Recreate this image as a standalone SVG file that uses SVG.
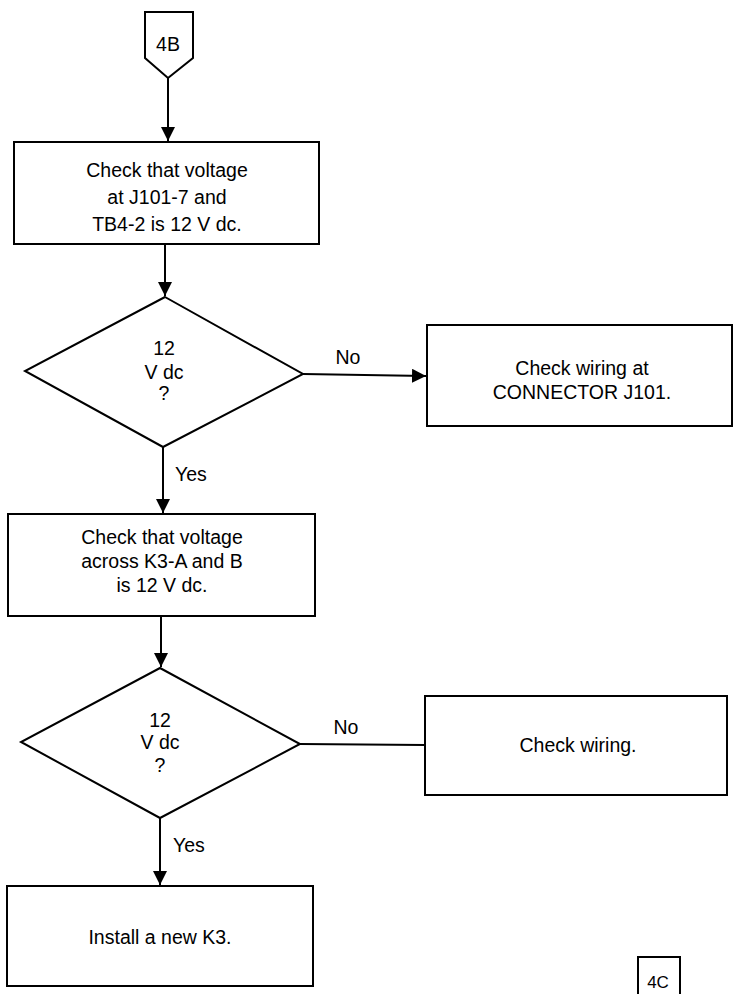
<svg xmlns="http://www.w3.org/2000/svg" width="737" height="994" viewBox="0 0 737 994">
<defs>
<marker id="ah" viewBox="0 0 14 14" refX="14" refY="7" markerWidth="14" markerHeight="14" markerUnits="userSpaceOnUse" orient="auto">
<path d="M0,0 L14,7 L0,14 Z" fill="#000"/>
</marker>
<style>
.s{fill:#fff;stroke:#000;stroke-width:2}
.c{fill:none;stroke:#000;stroke-width:2}
text{font-family:"Liberation Sans",Arial,sans-serif;font-size:19.5px;fill:#000}
.m{text-anchor:middle}
.t{font-size:17px}
</style>
</defs>
<rect width="737" height="994" fill="#fff"/>
<g id="connectors">
<line class="c" x1="168" y1="78" x2="168" y2="141" marker-end="url(#ah)"/>
<line class="c" x1="165" y1="244" x2="165" y2="296" marker-end="url(#ah)"/>
<line class="c" x1="303" y1="374" x2="426" y2="376" marker-end="url(#ah)"/>
<text x="348" y="364" class="m">No</text>
<line class="c" x1="163" y1="447" x2="163" y2="513" marker-end="url(#ah)"/>
<text x="175" y="481">Yes</text>
<line class="c" x1="161" y1="617" x2="161" y2="667" marker-end="url(#ah)"/>
<line class="c" x1="300" y1="744" x2="425" y2="745"/>
<text x="346" y="734" class="m">No</text>
<line class="c" x1="160" y1="818" x2="160" y2="885" marker-end="url(#ah)"/>
<text x="173" y="852">Yes</text>
</g>
<g id="start4B">
<path class="s" d="M145,12 L193,12 L193,58 L168,78 L145,58 Z"/>
<text x="168" y="51" class="m">4B</text>
</g>
<g id="box1">
<rect class="s" x="14" y="142" width="305" height="102"/>
<text x="167" y="177" class="m">Check that voltage</text>
<text x="167" y="204" class="m">at J101-7 and</text>
<text x="167" y="231" class="m">TB4-2 is 12 V dc.</text>
</g>
<g id="dec1">
<path class="s" d="M165,297 L303,374 L163,447 L25,371 Z"/>
<text x="164" y="355" class="m">12</text>
<text x="164" y="379" class="m">V dc</text>
<text x="164" y="400" class="m">?</text>
</g>
<g id="box2">
<rect class="s" x="427" y="325" width="305" height="101"/>
<text x="582" y="375" class="m">Check wiring at</text>
<text x="582" y="399" class="m">CONNECTOR J101.</text>
</g>
<g id="box3">
<rect class="s" x="8" y="514" width="307" height="102"/>
<text x="162" y="544" class="m">Check that voltage</text>
<text x="162" y="568" class="m">across K3-A and B</text>
<text x="162" y="592" class="m">is 12 V dc.</text>
</g>
<g id="dec2">
<path class="s" d="M160,668 L300,744 L160,818 L21,742 Z"/>
<text x="160" y="727" class="m">12</text>
<text x="160" y="749" class="m">V dc</text>
<text x="160" y="772" class="m">?</text>
</g>
<g id="box4">
<rect class="s" x="425" y="696" width="302" height="99"/>
<text x="578" y="752" class="m">Check wiring.</text>
</g>
<g id="box5">
<rect class="s" x="7" y="886" width="306" height="100"/>
<text x="160" y="944" class="m">Install a new K3.</text>
</g>
<g id="end4C">
<path class="c" d="M638,996 L638,957 L680,957 L680,996"/>
<text x="658" y="988" class="m t">4C</text>
</g>
</svg>
